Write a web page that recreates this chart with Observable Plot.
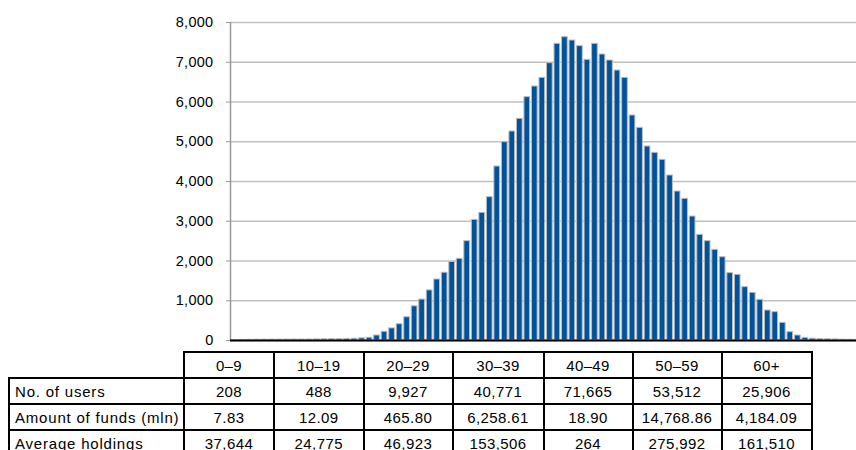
<!DOCTYPE html>
<html>
<head>
<meta charset="utf-8">
<script src="https://cdn.jsdelivr.net/npm/d3@7"></script>
<script src="https://cdn.jsdelivr.net/npm/@observablehq/plot@0.6"></script>
<style>
  html, body { margin: 0; padding: 0; background: #fff; overflow: hidden; }
  #wrap { position: relative; width: 856px; height: 450px; font-family: "Liberation Sans", Arial, sans-serif; }
  #chart { position: absolute; left: 0; top: 0; }
  #tbl { position: absolute; left: 8px; top: 351px; border-collapse: collapse; table-layout: fixed;
         font-size: 15px; letter-spacing: 0.4px; color: #000; }
  #tbl td { border: 2px solid #000; padding: 0; text-align: center; vertical-align: middle; line-height: 1; white-space: nowrap; }
  #tbl tr { height: 26px; }
  #tbl td.lab { text-align: left; padding-left: 5px; letter-spacing: 0.8px; }
  #tbl td.empty { border: none; }
</style>
</head>
<body>
<div id="wrap">
  <div id="chart"></div>
  <table id="tbl"></table>
</div>
<script>
// Users by single year of age (age 0 .. 83)
const usersByAge = [
  12, 15, 18, 20, 22, 23, 24, 24, 25, 25,
  26, 28, 30, 33, 36, 40, 45, 55, 69, 126,
  220, 305, 410, 585, 860, 1030, 1260, 1535, 1705, 1975,
  2055, 2499, 3036, 3212, 3606, 4377, 4990, 5258, 5577, 6122,
  6390, 6608, 6977, 7463, 7631, 7547, 7405, 7061, 7463, 7195,
  7044, 6792, 6608, 5660, 5350, 4881, 4721, 4545, 4151, 3748,
  3564, 3119, 2658, 2499, 2281, 2096, 1694, 1652, 1342, 1199,
  1023, 755, 713, 444, 210, 126, 67, 45, 38, 32,
  27, 22, 18, 15
];
const yTicks = [0, 1000, 2000, 3000, 4000, 5000, 6000, 7000, 8000];

// Table
const ageGroups = ["0–9", "10–19", "20–29", "30–39", "40–49", "50–59", "60+"];
const rowLabels = ["No. of users", "Amount of funds (mln)", "Average holdings"];
const usersRow = ["208", "488", "9,927", "40,771", "71,665", "53,512", "25,906"];
const fundsRow = ["7.83", "12.09", "465.80", "6,258.61", "18.90", "14,768.86", "4,184.09"];
const avgRow = ["37,644", "24,775", "46,923", "153,506", "264", "275,992", "161,510"];

const data = usersByAge.map((v, i) => ({age: i, users: v}));

const chart = Plot.plot({
  width: 856,
  height: 350,
  marginLeft: 230,
  marginRight: 0,
  marginTop: 22,
  marginBottom: 10,
  style: {fontFamily: '"Liberation Sans", Arial, sans-serif', fontSize: "14.5px", color: "#000", background: "#fff"},
  x: {domain: [0, 83.31], axis: null},
  y: {domain: [0, 8000], axis: null, label: null},
  marks: [
    Plot.gridY(yTicks, {stroke: "#c0c0c0", strokeOpacity: 1, strokeWidth: 1.5}),
    Plot.rectY(data, {
      x1: d => d.age, x2: d => d.age + 1, y: "users",
      fill: "#00539b", stroke: "#bdbdbd", strokeWidth: 1,
      insetLeft: 0.9, insetRight: 0.9
    }),
    Plot.ruleX([0], {y1: 0, y2: 8000, stroke: "#999", strokeWidth: 1.5}),
    Plot.ruleY([0], {stroke: "#000", strokeWidth: 2}),
    Plot.axisY({ticks: yTicks, tickFormat: d3.format(","), tickSize: 4, tickPadding: 13, stroke: "#999", fill: "#000", label: null})
  ]
});
chart.style.letterSpacing = "0.3px";
document.getElementById("chart").appendChild(chart);

// Build table
const tbl = document.getElementById("tbl");
const cg = document.createElement("colgroup");
[175, 90, 89.5, 89, 91, 89, 89, 90].forEach(w => {
  const c = document.createElement("col"); c.style.width = w + "px"; cg.appendChild(c);
});
tbl.appendChild(cg);
function addRow(label, cells) {
  const tr = document.createElement("tr");
  const th = document.createElement("td");
  if (label === null) { th.className = "empty"; } else { th.className = "lab"; th.textContent = label; }
  tr.appendChild(th);
  cells.forEach(v => { const td = document.createElement("td"); td.textContent = v; tr.appendChild(td); });
  tbl.appendChild(tr);
}
addRow(null, ageGroups);
addRow(rowLabels[0], usersRow);
addRow(rowLabels[1], fundsRow);
addRow(rowLabels[2], avgRow);
</script>
</body>
</html>
